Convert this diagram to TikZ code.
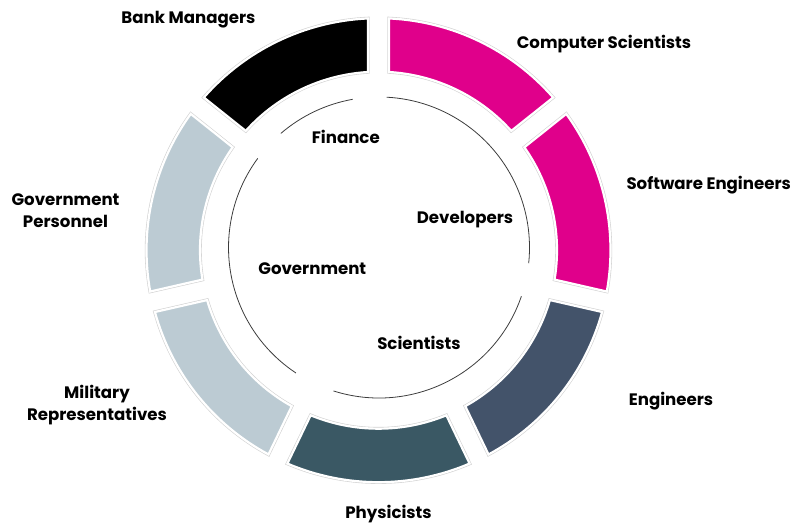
\documentclass[tikz,border=0pt]{standalone}
\usepackage{fontspec}
\setmainfont{Poppins}
\definecolor{pinkc}{RGB}{224,0,139}
\definecolor{grayc}{RGB}{188,203,211}
\definecolor{engc}{RGB}{67,83,106}
\definecolor{physc}{RGB}{58,88,100}
\definecolor{linec}{RGB}{60,60,60}
\def\dO{2.594}
\def\dI{3.372}
\newcommand\ringseg[2]{%
  (#1+\dO:232) arc[start angle=#1+\dO, end angle=#2-\dO, radius=232]
  -- (#2-\dI:178.5) arc[start angle=#2-\dI, end angle=#1+\dI, radius=178.5] -- cycle}
\newcommand\drawseg[3]{%
  \path[segshadow] \ringseg{#2}{#3};
  \path[segbody, fill=#1] \ringseg{#2}{#3};}
\tikzset{
  segshadow/.style={draw=black!18, line width=3.4},
  segbody/.style={draw=white, line width=2.2},
  thinarc/.style={draw=linec, line width=0.8},
  lbl/.style={font=\fontsize{16.6}{22}\selectfont\bfseries, anchor=base, align=center, inner sep=0pt, text=black}
}
\begin{document}
\begin{tikzpicture}[x=1pt,y=1pt]
\useasboundingbox (0,0) rectangle (800,527);
\begin{scope}[shift={(378.5,276.8)}]
  \drawseg{pinkc}{38.571}{90}
  \drawseg{pinkc}{-12.857}{38.571}
  \drawseg{engc}{-64.286}{-12.857}
  \drawseg{physc}{-115.714}{-64.286}
  \drawseg{grayc}{-167.143}{-115.714}
  \drawseg{grayc}{141.429}{192.857}
  \drawseg{black}{90}{141.429}
\end{scope}
\begin{scope}[shift={(379,279.5)}]
  \draw[thinarc] (-6:150.5) arc[start angle=-6, end angle=87.1, radius=150.5];
  \draw[thinarc] (100.1:150.5) arc[start angle=100.1, end angle=130.7, radius=150.5];
  \draw[thinarc] (143.7:150.5) arc[start angle=143.7, end angle=236.5, radius=150.5];
  \draw[thinarc] (252.4:150.5) arc[start angle=252.4, end angle=341.1, radius=150.5];
\end{scope}
\node[lbl] (bank) at (188.5,503.5) {Bank Managers};
\node[lbl] (cs) at (604,478.5) {Computer Scientists};
\node[lbl] (se) at (708.7,337) {Software Engineers};
\node[lbl] (govp) at (65.5,299) {Government\\Personnel};
\node[lbl] (mil) at (97,106) {Military\\Representatives};
\node[lbl] (eng) at (671,121) {Engineers};
\node[lbl] (phys) at (388.5,8) {Physicists};
\node[lbl] (fin) at (345.8,383) {Finance};
\node[lbl] (dev) at (465,303) {Developers};
\node[lbl] (gov) at (312.3,252) {Government};
\node[lbl] (sci) at (419,177.7) {Scientists};
\end{tikzpicture}
\end{document}
